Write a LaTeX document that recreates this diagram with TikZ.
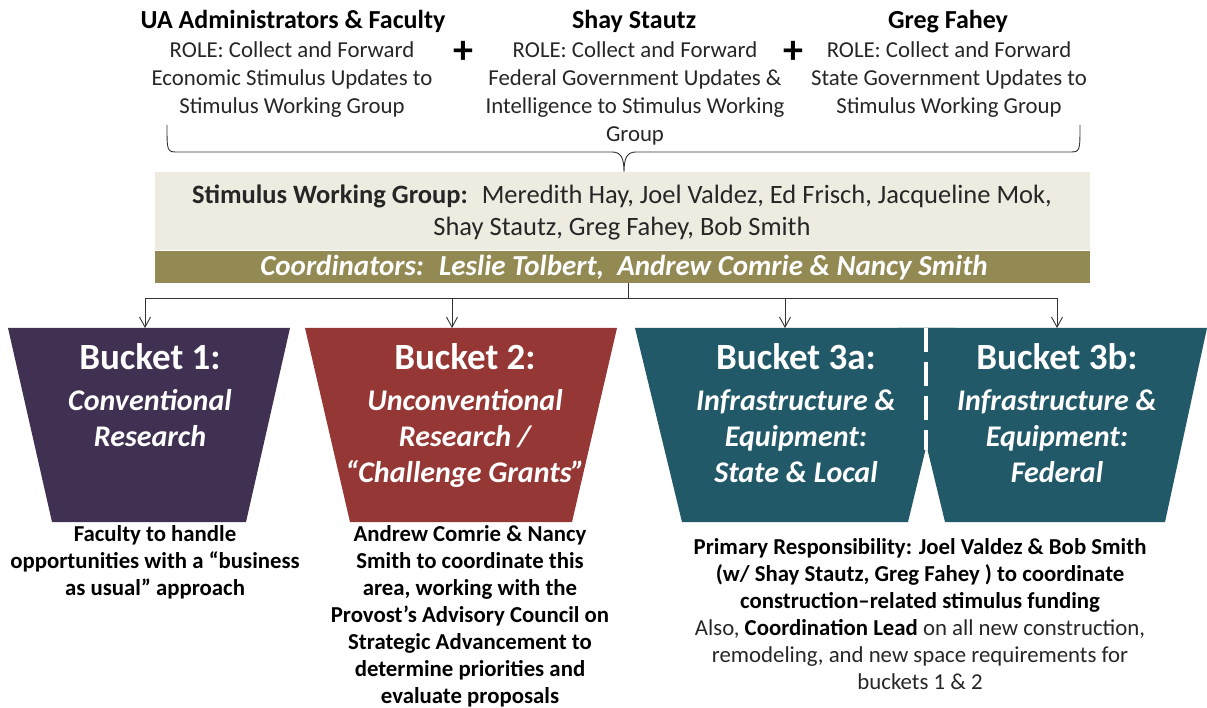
\documentclass[tikz,border=0pt]{standalone}
\usepackage{fontspec}
\setmainfont{Carlito}
\usetikzlibrary{arrows.meta}
\definecolor{boxgrey}{HTML}{EEECE1}
\definecolor{olive}{HTML}{938953}
\definecolor{bpurple}{HTML}{403152}
\definecolor{bred}{HTML}{953735}
\definecolor{bteal}{HTML}{215968}
\definecolor{txtdark}{HTML}{262626}
\tikzset{
  ttl/.style={font=\bfseries\fontsize{26}{30}\selectfont, anchor=base, inner sep=0, text=black},
  role/.style={font=\fontsize{22.8}{28}\selectfont, align=center, anchor=north, inner sep=0, text=txtdark},
  plus/.style={font=\bfseries\fontsize{40}{40}\selectfont, inner sep=0, text=black},
  bktitle/.style={font=\bfseries\fontsize{37}{40}\selectfont, anchor=base, inner sep=0, text=white},
  bkbody/.style={font=\bfseries\itshape\fontsize{30}{36}\selectfont, align=center, anchor=north, inner sep=0, text=white},
  note/.style={font=\bfseries\fontsize{22.8}{27}\selectfont, align=center, anchor=north, inner sep=0, text=black},
  conn/.style={draw=black!80, line width=0.9pt},
  arr/.style={conn, -{Straight Barb[length=10pt,width=11pt,line width=0.9pt]}},
}
\begin{document}
\begin{tikzpicture}[x=1pt,y=-1pt]
\useasboundingbox (0,0) rectangle (1207,708);

% top contributors
\node[ttl] (t1) at (293,29) {UA Administrators \& Faculty};
\node[ttl] (t2) at (634,29) {Shay Stautz};
\node[ttl] (t3) at (948,29) {Greg Fahey};
\node[role] (r1) at (292,37.4) {\strut ROLE: Collect and Forward\\Economic Stimulus Updates to\\Stimulus Working Group};
\node[role] (r2) at (635,37.4) {\strut ROLE: Collect and Forward\\Federal Government Updates \&\\Intelligence to Stimulus Working\\Group};
\node[role] (r3) at (949,37.4) {\strut ROLE: Collect and Forward\\State Government Updates to\\Stimulus Working Group};
\node[plus] (p1) at (463,52) {+};
\node[plus] (p2) at (793,52) {+};

% brace
\draw[conn] (167,125) .. controls (167,152) and (167,152) .. (178,152) -- (612,152)
  .. controls (621,152) and (624,158) .. (624,172)
  .. controls (624,158) and (627,152) .. (636,152) -- (1069,152)
  .. controls (1080,152) and (1080,152) .. (1080,125);

% working group box
\node[fill=boxgrey, minimum width=935pt, minimum height=78pt, anchor=north west, inner sep=0] (swg) at (155,172) {};
\node[fill=olive, minimum width=935pt, minimum height=32pt, anchor=north west, inner sep=0] (band) at (155,251) {};
\node[font=\fontsize{26.5}{32}\selectfont, align=center, anchor=north, inner sep=0, text=txtdark] (swgtxt) at (622,180.6)
  {\strut\textbf{Stimulus Working Group:} \ Meredith Hay, Joel Valdez, Ed Frisch, Jacqueline Mok,\\Shay Stautz, Greg Fahey, Bob Smith};
\node[font=\bfseries\itshape\fontsize{29}{32}\selectfont, anchor=base, inner sep=0, text=white] (coord) at (624,276)
  {Coordinators: \ Leslie Tolbert, \ Andrew Comrie \& Nancy Smith};

% buckets
\fill[bpurple] (8,328) -- (290,328) -- (246,522) -- (52,522) -- cycle;
\fill[bred] (305,328) -- (617,328) -- (572,522) -- (350,522) -- cycle;
\fill[bteal] (635,328) -- (955,328) -- (908,522) -- (682,522) -- cycle;
\fill[bteal] (898,328) -- (1207,328) -- (1165,522) -- (945,522) -- cycle;
\draw[white, line width=4pt, dash pattern=on 24pt off 10pt] (926,328) -- (926,450);

\coordinate (b1) at (145,328);
\coordinate (b2) at (452,328);
\coordinate (b3a) at (785,328);
\coordinate (b3b) at (1057,328);
\coordinate (jc) at (628,298);
\draw[conn] (band.south -| jc) -- (jc);
\draw[arr] (jc) -| (b1);
\draw[arr] (jc) -| (b2);
\draw[arr] (jc) -| (b3a);
\draw[arr] (jc) -| (b3b);

\node[bktitle] (k1) at (150,370) {Bucket 1:};
\node[bkbody] (k1b) at (150,384.8) {\strut Conventional\\Research};
\node[bktitle] (k2) at (465,370) {Bucket 2:};
\node[bkbody] (k2b) at (465,384.8) {\strut Unconventional\\Research /\\“Challenge Grants”};
\node[bktitle] (k3a) at (796,370) {Bucket 3a:};
\node[bkbody] (k3ab) at (796,384.8) {\strut Infrastructure \&\\Equipment:\\State \& Local};
\node[bktitle] (k3b) at (1057,370) {Bucket 3b:};
\node[bkbody] (k3bb) at (1057,384.8) {\strut Infrastructure \&\\Equipment:\\Federal};

% notes
\node[note] (n1) at (155,522.1) {\strut Faculty to handle\\opportunities with a “business\\as usual” approach};
\node[note] (n2) at (470,522.1) {\strut Andrew Comrie \& Nancy\\Smith to coordinate this\\area, working with the\\Provost’s Advisory Council on\\Strategic Advancement to\\determine priorities and\\evaluate proposals};
\node[note] (n3) at (920,535.1) {\strut Primary Responsibility: Joel Valdez \& Bob Smith\\(w/ Shay Stautz, Greg Fahey ) to coordinate\\construction–related stimulus funding\\\mdseries\color{txtdark}Also, \textbf{\color{black}Coordination Lead} on all new construction,\\\mdseries\color{txtdark}remodeling, and new space requirements for\\\mdseries\color{txtdark}buckets 1 \& 2};
\end{tikzpicture}
\end{document}
